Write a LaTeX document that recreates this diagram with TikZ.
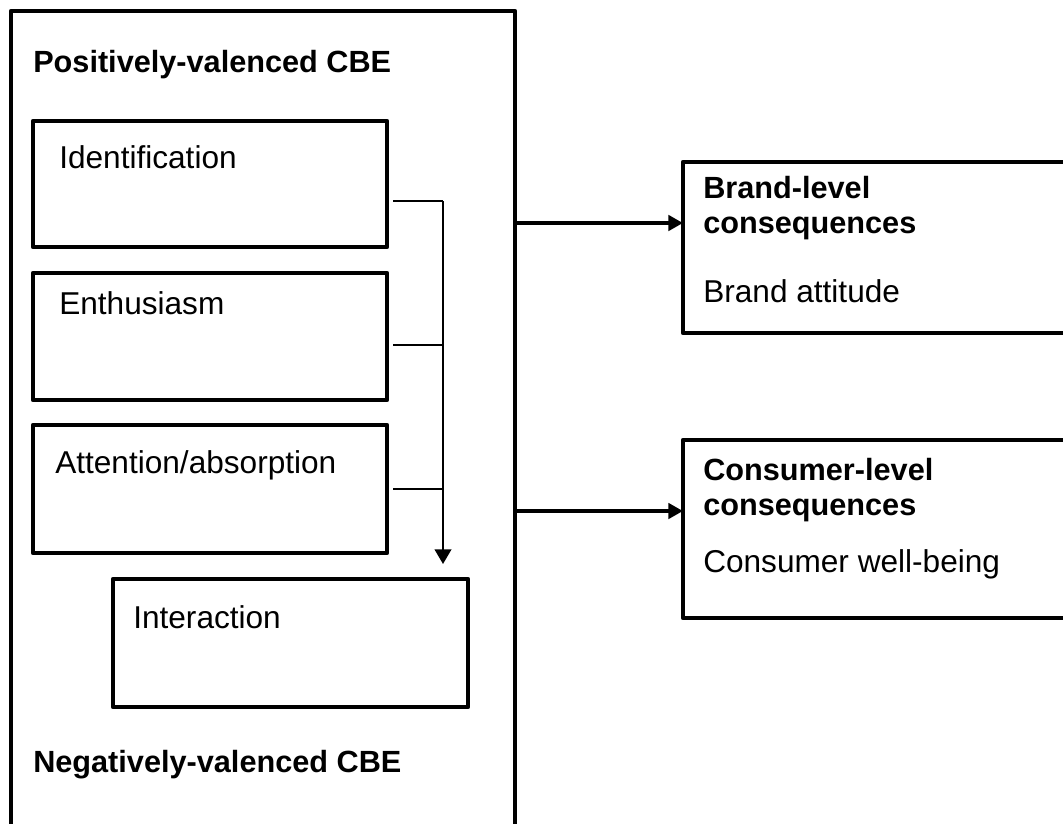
\documentclass[tikz,border=0pt]{standalone}
\usepackage{fontspec}
\setmainfont{Liberation Sans}
\usetikzlibrary{arrows.meta}

\tikzset{
  box/.style={draw, line width=3.5pt, line join=round, inner sep=0pt, outer sep=0pt, anchor=north west},
  head/.style={font=\fontsize{23}{26.25}\selectfont\bfseries, anchor=base west, inner sep=0pt, align=left},
  item/.style={font=\fontsize{23.7}{28}\selectfont, anchor=base west, inner sep=0pt},
  link/.style={line width=1.5pt},
  flow/.style={line width=3pt, -{Triangle[length=11pt, width=11.5pt]}}
}

\begin{document}
\begin{tikzpicture}[x=0.75pt, y=-0.75pt]
        \def \px {0.75pt}
        \useasboundingbox (0,0) rectangle (1063,824);

        % CBE side
        \node[box, minimum width=504*\px, minimum height=900*\px] (cbe) at (11,11) {};
        \node[head] (pos) at (33,73) {Positively-valenced CBE};
        \node[head] (neg) at (33,772) {Negatively-valenced CBE};

        \node[box, minimum width=354*\px, minimum height=126*\px] (ident) at (33,121) {};
        \node[box, minimum width=354*\px, minimum height=127*\px] (enth) at (33,273) {};
        \node[box, minimum width=354*\px, minimum height=128*\px] (attn) at (33,425) {};
        \node[box, minimum width=355*\px, minimum height=128*\px] (inter) at (113,579) {};

        \node[item] (identtxt) at (59,168) {Identification};
        \node[item] (enthtxt) at (59,314) {Enthusiasm};
        \node[item] (attntxt) at (55,473) {Attention/absorption};
        \node[item] (intertxt) at (133,628) {Interaction};

        % consequences side
        \node[box, minimum width=420*\px, minimum height=171*\px] (brand) at (683,162) {};
        \node[box, minimum width=420*\px, minimum height=178*\px] (cons) at (683,440) {};

        \node[head] (brandtxt) at (703,233) {Brand-level\\consequences};
        \node[item] (attitude) at (703,302) {Brand attitude};
        \node[head] (constxt) at (703,515) {Consumer-level\\consequences};
        \node[item] (wellbeing) at (703,572) {Consumer well-being};

        % joins between the dimensions
        \coordinate (s1) at (393,201);
        \coordinate (s2) at (393,345);
        \coordinate (s3) at (393,489);
        \coordinate (j1) at (443,201);
        \coordinate (j2) at (443,345);
        \coordinate (j3) at (443,489);
        \coordinate (tip) at (443,564);

        \draw[link] (s1) -- (j1);
        \draw[link] (s2) -- (j2);
        \draw[link] (s3) -- (j3);
        \draw[link, -{Triangle[length=11pt, width=12.5pt]}] (j1) -- (tip);

        \coordinate (b1) at (515,223);
        \coordinate (b2) at (515,511);
        \draw[flow] (b1) -- (b1 -| brand.west);
        \draw[flow] (b2) -- (b2 -| cons.west);
      \end{tikzpicture}
\end{document}
